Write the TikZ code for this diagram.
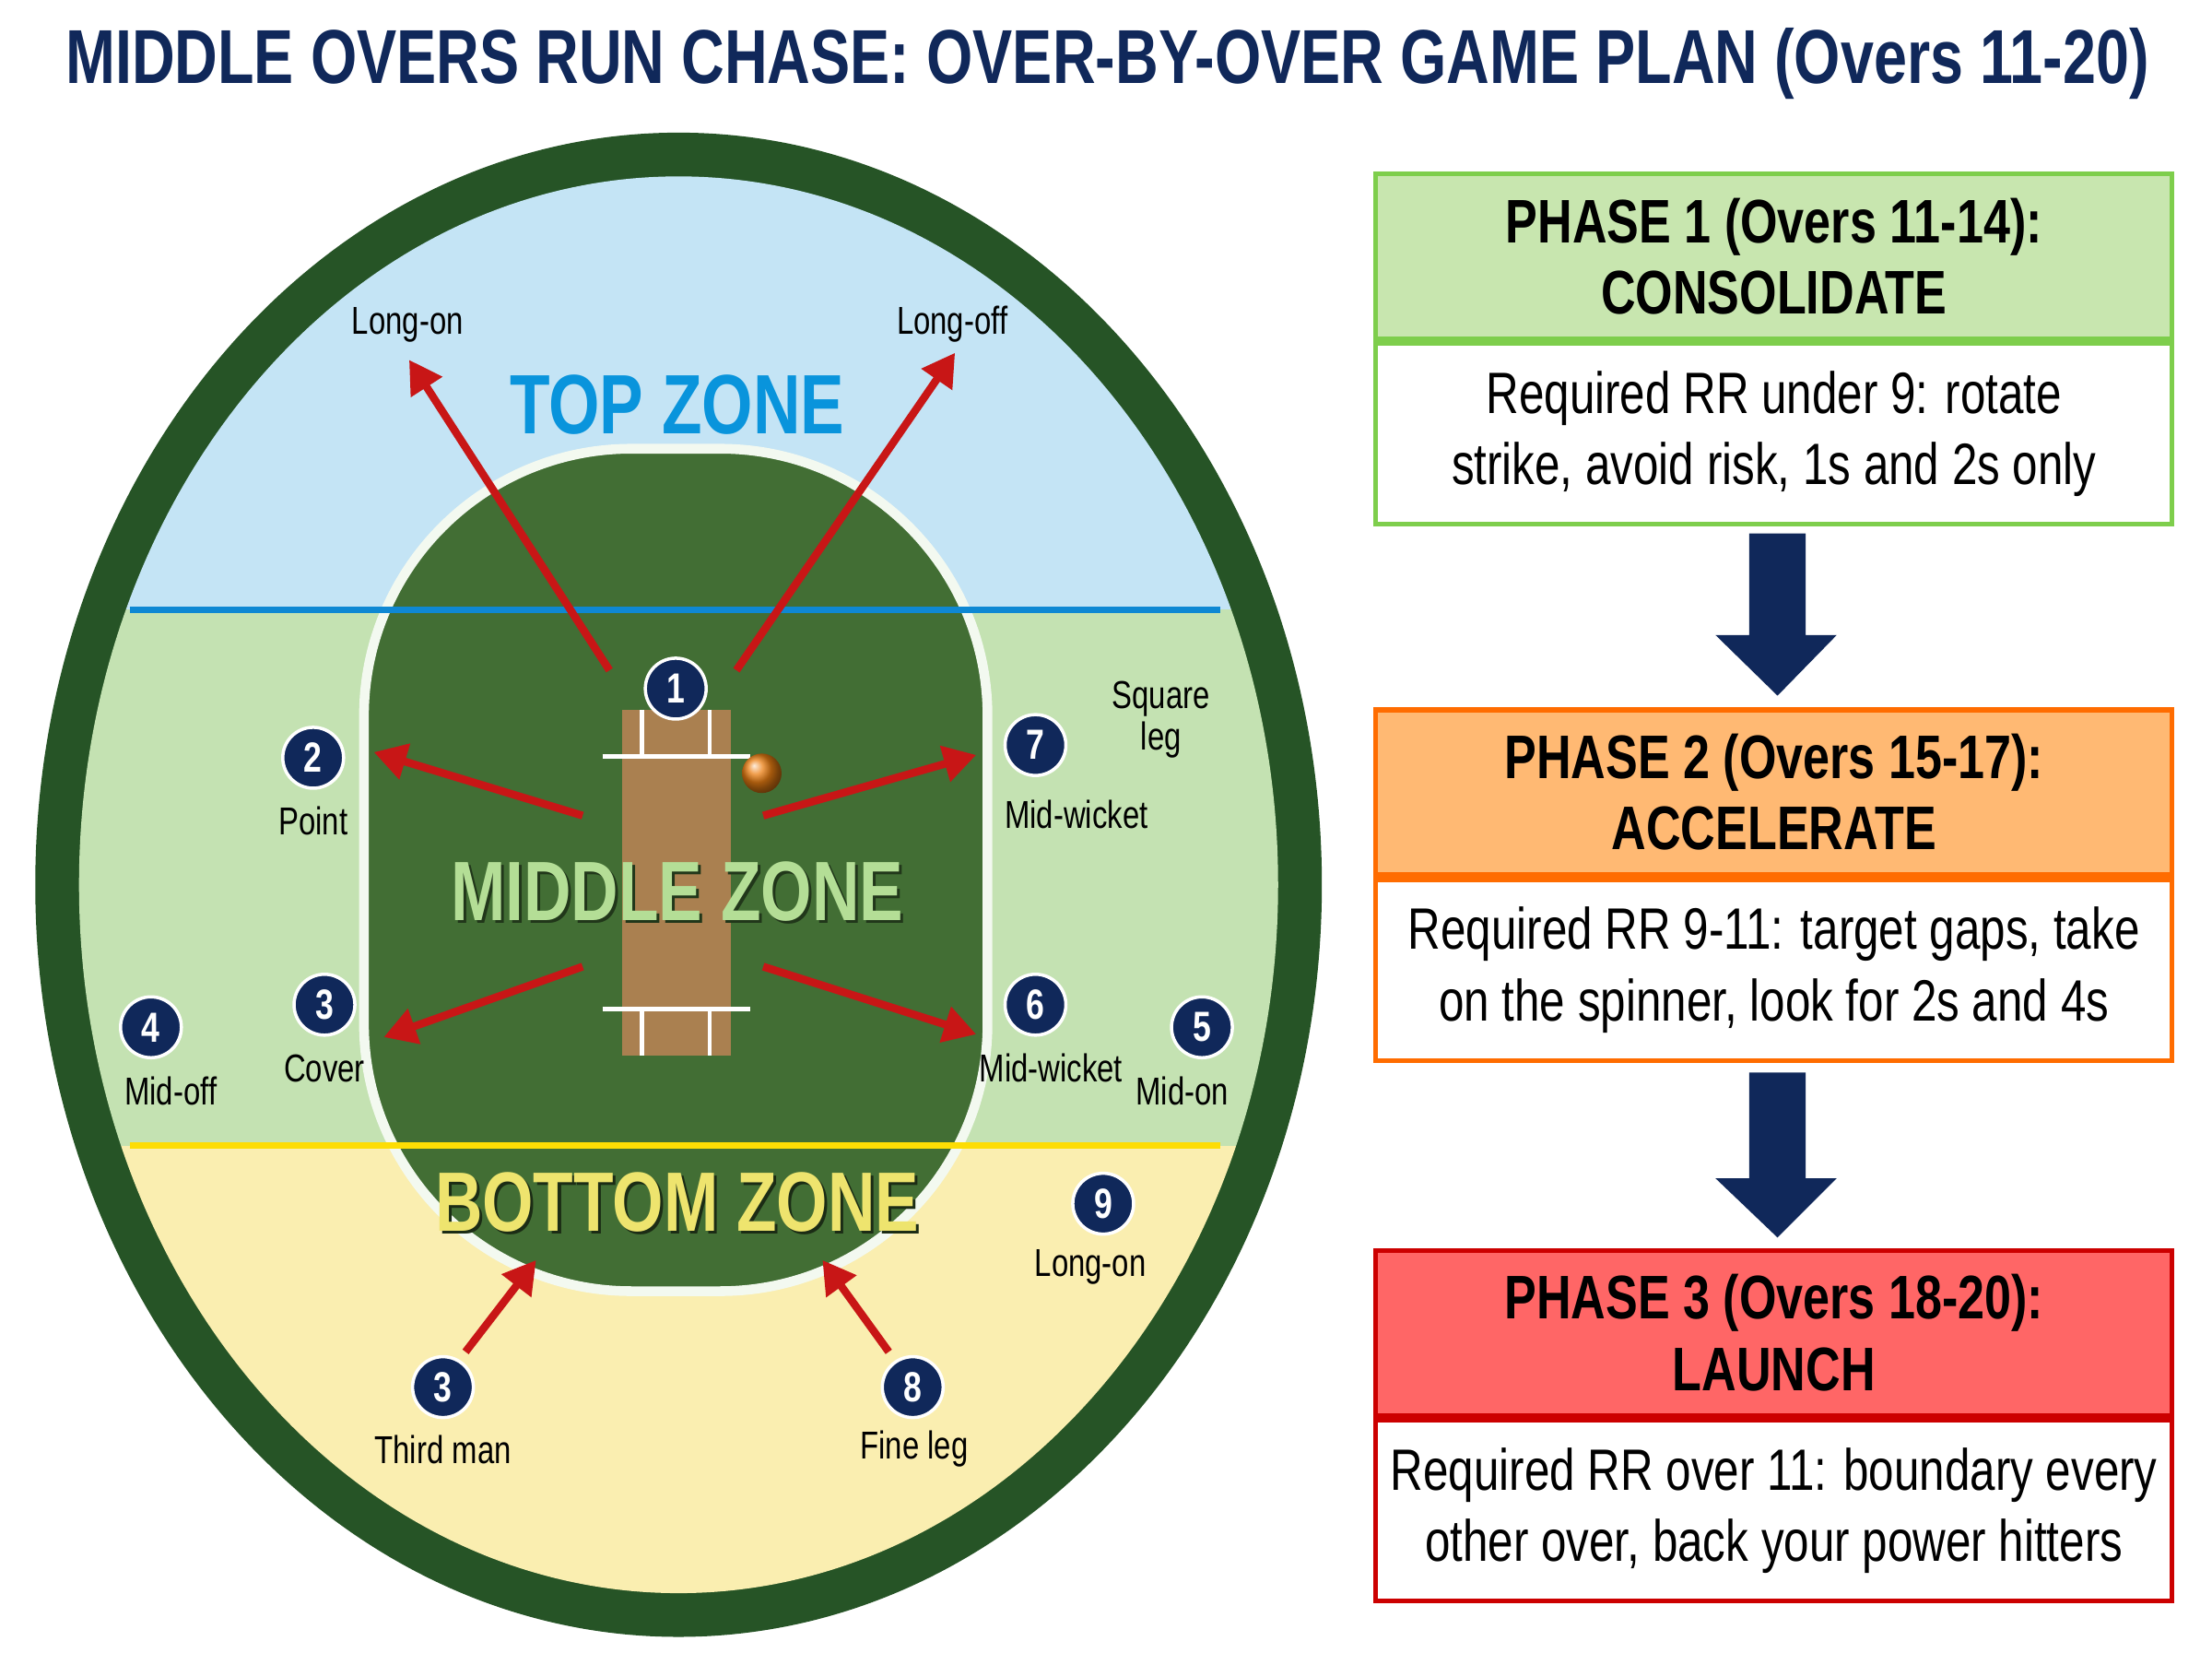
\documentclass[tikz,border=0pt]{standalone}
\usepackage{fontspec}
\setmainfont{Liberation Sans}[FakeStretch=0.78]
\usepackage{tikz}
\usetikzlibrary{arrows.meta}

\definecolor{navy}{RGB}{16,40,90}
\definecolor{rimgreen}{RGB}{38,84,38}
\definecolor{infield}{RGB}{66,110,52}
\definecolor{topblue}{RGB}{196,228,245}
\definecolor{midgreen}{RGB}{196,226,178}
\definecolor{botyellow}{RGB}{250,238,176}
\definecolor{pitchbrown}{RGB}{170,128,80}
\definecolor{arrowred}{RGB}{200,22,22}
\definecolor{midtext}{RGB}{180,222,150}
\definecolor{bottext}{RGB}{238,228,110}
\definecolor{ph1fill}{RGB}{200,230,175}

\begin{document}
\begin{tikzpicture}[x=0.0153cm, y=-0.0153cm,
    fielder/.style={circle, fill=navy, draw=white, line width=1pt, minimum size=0.66cm, inner sep=0pt, text=white, font=\bfseries\fontsize{13}{13}\selectfont},
    spot/.style={font=\fontsize{12}{13}\selectfont, text=black, align=center},
    shot/.style={arrowred, line width=2.4pt, -{Triangle[length=10pt, width=11pt]}},
    zone/.style={font=\bfseries\fontsize{26}{26}\selectfont},
    head/.style={font=\bfseries\fontsize{19}{22}\selectfont, align=center},
    body/.style={font=\fontsize{18}{22}\selectfont, align=center},
    flowarrow/.style={fill=navy, draw=none}]
    \useasboundingbox (0,0) rectangle (1568,1171);
    \fill[white] (0,0) rectangle (1568,1171);

    % title
    \node[text=navy] (title) at (785,45) {\resizebox{22.6cm}{!}{\bfseries MIDDLE OVERS RUN CHASE: OVER-BY-OVER GAME PLAN (Overs 11-20)}};

    % ground
    \fill[rimgreen] (481,627) ellipse [x radius=456, y radius=533];
    \begin{scope}
        \clip (481,627) ellipse [x radius=425, y radius=502];
        \fill[topblue] (0,90) rectangle (960,432);
        \fill[midgreen] (0,432) rectangle (960,812);
        \fill[botyellow] (0,812) rectangle (960,1170);
    \end{scope}
    \draw[line width=3pt, draw=white!80!midgreen, fill=infield, rounded corners=2.9cm] (258,318) rectangle (700,915);
    \draw[line width=2pt, draw=cyan!70!blue] (92,432) -- (865,432);
    \draw[line width=2pt, draw=yellow!80!orange] (92,812) -- (865,812);

    % pitch
    \fill[pitchbrown] (441,503) rectangle (518,748);
    \draw[white, line width=1.2pt] (427,536) -- (532,536) (455,503) -- (455,536) (503,503) -- (503,536);
    \draw[white, line width=1.2pt] (427,715) -- (532,715) (455,715) -- (455,748) (503,715) -- (503,748);
    \shade[ball color=orange!70!brown] (540,548) circle (14);

    % zone labels
    \node[zone, text=cyan!80!blue] (top) at (480,287) {TOP ZONE};
    \node[zone, text=black!50!infield] at (482,634) {MIDDLE ZONE};
    \node[zone, text=midtext] (mid) at (480,632) {MIDDLE ZONE};
    \node[zone, text=black!60!infield] at (482,854) {BOTTOM ZONE};
    \node[zone, text=bottext] (bot) at (480,852) {BOTTOM ZONE};

    % fielders
    \node[fielder] (f1) at (479,488) {1};
    \node[fielder] (f2) at (222,537) {2};
    \node[fielder] (f7) at (734,528) {7};
    \node[fielder] (f3a) at (230,712) {3};
    \node[fielder] (f6) at (734,712) {6};
    \node[fielder] (f4) at (107,728) {4};
    \node[fielder] (f5) at (852,728) {5};
    \node[fielder] (f9) at (782,853) {9};
    \node[fielder] (f3b) at (314,983) {3};
    \node[fielder] (f8) at (647,983) {8};

    \node[spot] (longon) at (289,230) {Long-on};
    \node[spot] (longoff) at (675,230) {Long-off};
    \node[spot] (point) at (222,582) {Point};
    \node[spot] (midwk1) at (763,577) {Mid-wicket};
    \node[spot] (sqleg) at (823,510) {Square\\leg};
    \node[spot] (cover) at (230,757) {Cover};
    \node[spot] (midwk2) at (745,757) {Mid-wicket};
    \node[spot] (midoff) at (121,773) {Mid-off};
    \node[spot] (midon) at (838,773) {Mid-on};
    \node[spot] (longon2) at (773,898) {Long-on};
    \node[spot] (thirdman) at (314,1027) {Third man};
    \node[spot] (fineleg) at (648,1027) {Fine leg};

    % shots
    \coordinate (s1) at (432,475); \coordinate (e1) at (290,255);
    \coordinate (s2) at (522,475); \coordinate (e2) at (677,250);
    \coordinate (s3) at (413,578); \coordinate (e3) at (265,533);
    \coordinate (s4) at (541,578); \coordinate (e4) at (692,535);
    \coordinate (s5) at (413,685); \coordinate (e5) at (272,735);
    \coordinate (s6) at (541,685); \coordinate (e6) at (692,733);
    \coordinate (s7) at (330,958); \coordinate (e7) at (380,893);
    \coordinate (s8) at (630,958); \coordinate (e8) at (583,893);
    \foreach \i in {1,...,8} {
        \draw[shot] (s\i) -- (e\i);
    }

    % phase boxes
    \node[draw=green!45!olive!70, line width=1.5pt, fill=ph1fill, minimum width=8.64cm, minimum height=1.79cm, head] (ph1) at (1257.5,181.5) {PHASE 1 (Overs 11-14):\\CONSOLIDATE};
    \node[draw=green!45!olive!70, line width=1.5pt, fill=white, minimum width=8.64cm, minimum height=1.96cm, body, anchor=north] (b1) at (ph1.south) {Required RR under 9: rotate\\strike, avoid risk, 1s and 2s only};

    \node[draw=orange!85!red, line width=1.5pt, fill=orange!55!white, minimum width=8.64cm, minimum height=1.79cm, head] (ph2) at (1257.5,561.5) {PHASE 2 (Overs 15-17):\\ACCELERATE};
    \node[draw=orange!85!red, line width=1.5pt, fill=white, minimum width=8.64cm, minimum height=1.96cm, body, anchor=north] (b2) at (ph2.south) {Required RR 9-11: target gaps, take\\on the spinner, look for 2s and 4s};

    \node[draw=red!80!black, line width=1.5pt, fill=red!60!white, minimum width=8.64cm, minimum height=1.79cm, head] (ph3) at (1257.5,944.5) {PHASE 3 (Overs 18-20):\\LAUNCH};
    \node[draw=red!80!black, line width=1.5pt, fill=white, minimum width=8.64cm, minimum height=1.96cm, body, anchor=north] (b3) at (ph3.south) {Required RR over 11: boundary every\\other over, back your power hitters};

    % flow arrows
    \fill[flowarrow] (1240,378) -- (1280,378) -- (1280,450) -- (1302,450) -- (1260,493) -- (1216,450) -- (1240,450) -- cycle;
    \fill[flowarrow] (1240,760) -- (1280,760) -- (1280,835) -- (1302,835) -- (1260,877) -- (1216,835) -- (1240,835) -- cycle;
\end{tikzpicture}
\end{document}
